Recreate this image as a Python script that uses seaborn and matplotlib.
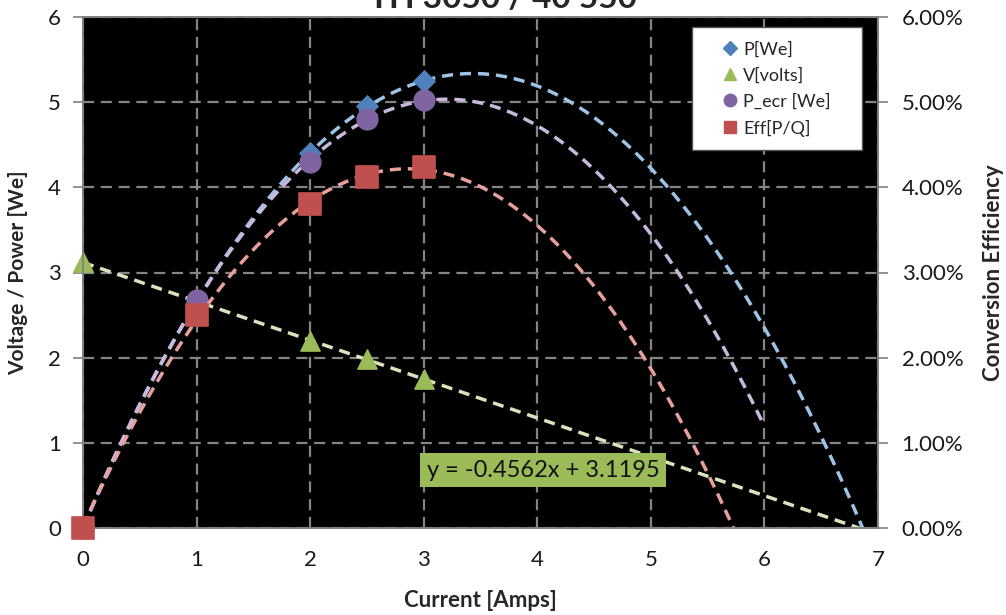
import numpy as np
import pandas as pd
import seaborn as sns
import matplotlib.pyplot as plt
from matplotlib.lines import Line2D
from matplotlib.patches import Rectangle
from matplotlib.ticker import FuncFormatter

# data
current = [0, 1, 2, 2.5, 3]
p_we = [0, 2.66, 4.40, 4.95, 5.25]
v_volts = [3.12, 2.66, 2.20, 1.98, 1.75]
p_ecr = [0, 2.68, 4.30, 4.80, 5.02]
eff_pct = [0, 2.50, 3.80, 4.12, 4.24]
fit_label = "y = -0.4562x + 3.1195"
title = "TH 3050 / 40 550"

df = pd.DataFrame({"I": current, "P": p_we, "V": v_volts, "Pecr": p_ecr, "Eff": eff_pct})

blue, green, purple, red = "#4F81BD", "#9BBB59", "#8064A2", "#C0504D"
blue_l, green_l, purple_l, red_l = "#9DC3E6", "#D7E4BD", "#C9B8DD", "#E8A09A"

sns.set_style("white")
plt.rcParams["font.family"] = ["Lato", "DejaVu Sans"]

W, H = 1006, 615
fig = plt.figure(figsize=(W / 100, H / 100), dpi=100)
ax = fig.add_axes([83 / W, 1 - 528 / H, 795 / W, 511 / H])
ax2 = ax.twinx()
ax.set_facecolor("black")
ax2.set_facecolor("none")


def trend(x, y, order, x_end):
    coef = np.polyfit(x, y, order)
    xs = np.linspace(0, x_end, 200)
    return xs, np.polyval(coef, xs)


# excel-style trendlines (fitted to the points, extended forward)
dash = (0, (3.2, 2.0))
tl = dict(lw=2.5, linestyle=dash, sort=False, estimator=None, zorder=2)
xs, ys = trend(df.I, df.P, 2, 7)
sns.lineplot(x=xs, y=ys, ax=ax, color=blue_l, **tl)
xs, ys = trend(df.I, df.Pecr, 2, 6)
sns.lineplot(x=xs, y=ys, ax=ax, color=purple_l, **tl)
xs, ys = trend(df.I, df.V, 1, 7)
sns.lineplot(x=xs, y=ys, ax=ax, color=green_l, **tl)
xs, ys = trend(df.I, df.Eff, 2, 6)
sns.lineplot(x=xs, y=ys, ax=ax2, color=red_l, **tl)

sns.scatterplot(data=df, x="I", y="V", ax=ax, marker="^", s=190, color=green, edgecolor=green, zorder=3, clip_on=False)
sns.scatterplot(data=df, x="I", y="P", ax=ax, marker="D", s=120, color=blue, edgecolor=blue, zorder=3, clip_on=False)
sns.scatterplot(data=df, x="I", y="Pecr", ax=ax, marker="o", s=220, color=purple, edgecolor=purple, zorder=3, clip_on=False)
sns.scatterplot(data=df, x="I", y="Eff", ax=ax2, marker="s", s=230, color=red, edgecolor=red, zorder=3, clip_on=False)

ax.set_xlim(0, 7)
ax.set_ylim(0, 6)
ax2.set_ylim(0, 6)
ax.set_xticks(range(0, 8))
ax.set_yticks(range(0, 7))
ax2.set_yticks(range(0, 7))
ax2.yaxis.set_major_formatter(FuncFormatter(lambda v, p: f"{v:.2f}%"))

ax.grid(True, color="#858585", linestyle=(0, (5, 3)), lw=1.6)
ax.set_axisbelow(True)
for a in (ax, ax2):
    for s in a.spines.values():
        s.set_color("#7f7f7f")
        s.set_linewidth(1.2)
    a.tick_params(axis="both", direction="out", length=7, width=1.2, color="#7f7f7f",
                  labelsize=16, labelcolor="#1a1a1a", pad=9)
ax2.tick_params(axis="y", pad=10)

ax.set_xlabel("Current [Amps]", fontsize=16, fontweight="bold", labelpad=14)
ax.set_ylabel("Voltage / Power [We]", fontsize=15, fontweight="bold", labelpad=14)
ax2.set_ylabel("Conversion Efficiency", fontsize=16, fontweight="bold", labelpad=14)

ax.text(4.05, 0.68, fit_label, fontsize=17, color="#111111", ha="center", va="center", zorder=5,
        bbox=dict(boxstyle="square,pad=0.28", fc=green, ec="none"))

# legend: white frame with wide side padding, markers only
ax2.add_patch(Rectangle(((692 - 83) / 795, (528 - 150) / 511), 170 / 795, 123 / 511,
                        transform=ax2.transAxes, fc="white", ec="#555555", lw=1.0, zorder=9))
handles = [
    Line2D([], [], ls="none", marker="D", ms=7, color=blue, label="P[We]"),
    Line2D([], [], ls="none", marker="^", ms=9, color=green, label="V[volts]"),
    Line2D([], [], ls="none", marker="o", ms=9, color=purple, label="P_ecr [We]"),
    Line2D([], [], ls="none", marker="s", ms=9, color=red, label="Eff[P/Q]"),
]
leg = ax2.legend(handles=handles, loc="center", bbox_to_anchor=((777 - 83) / 795, (528 - 89) / 511),
                 fontsize=13, frameon=False, handlelength=0.8, handletextpad=0.3,
                 labelspacing=0.55, borderpad=0, borderaxespad=0)
leg.set_zorder(10)

fig.text(0.5, 1 - 8 / H, title, fontsize=24, fontweight="bold", ha="center", va="baseline")

fig.savefig("out.png", dpi=100)
